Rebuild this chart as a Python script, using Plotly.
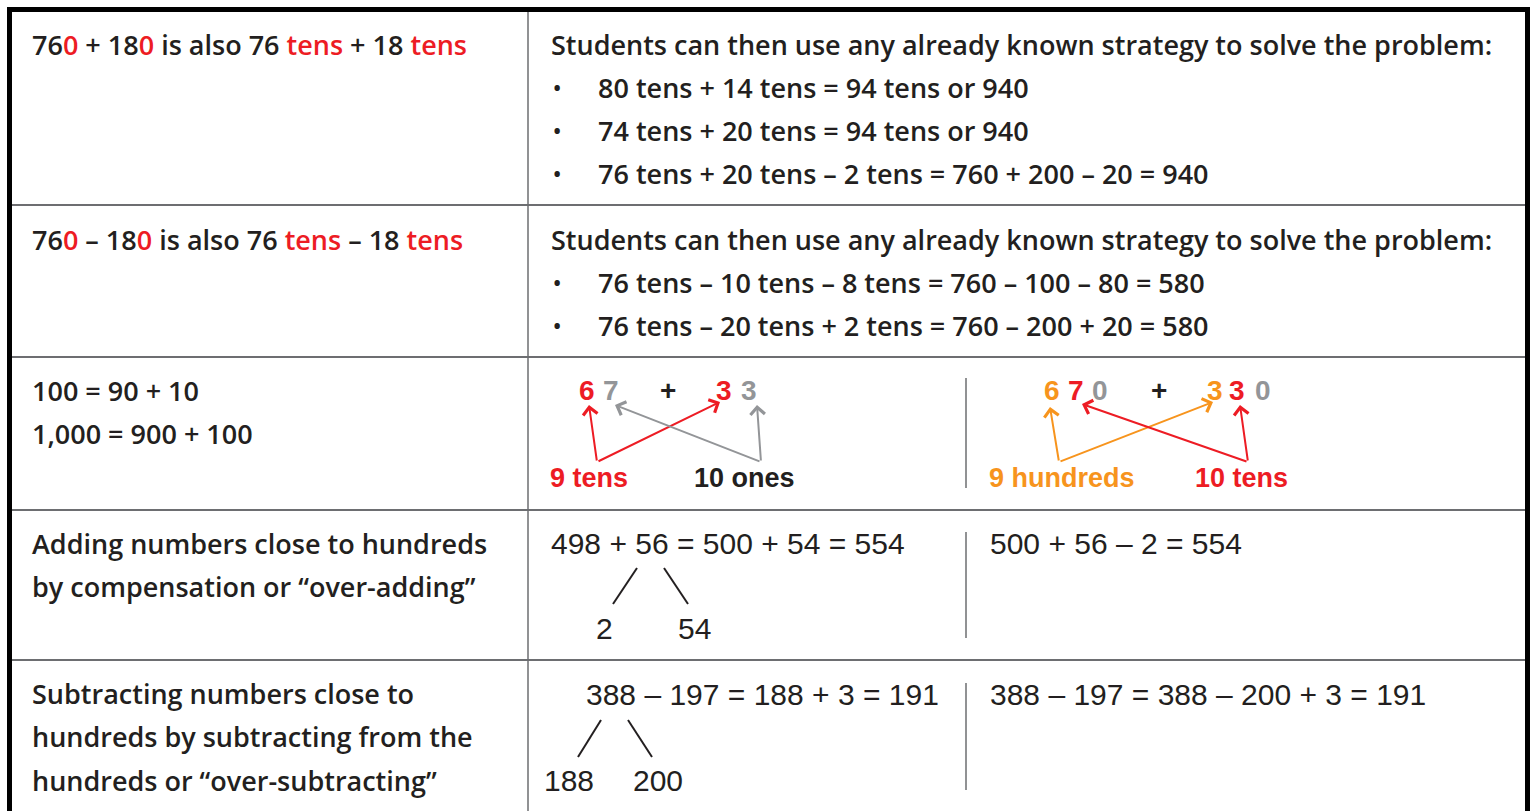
import plotly.graph_objects as go

# colours
RED = "#ed1c24"
ORANGE = "#f7941d"
GREY = "#939598"
INK = "#231f20"
RULE = "#6d6e71"

W, H = 1533, 811
MAIN_FONT = "Open Sans, Noto Sans, sans-serif"
MATH_FONT = "Liberation Sans, Arial, sans-serif"


def red(s):
    return '<span style="color:%s">%s</span>' % (RED, s)


# table content
row1_left = "76" + red("0") + " + 18" + red("0") + " is also 76 " + red("tens") + " + 18 " + red("tens")
row2_left = "76" + red("0") + " – 18" + red("0") + " is also 76 " + red("tens") + " – 18 " + red("tens")
strategy_intro = "Students can then use any already known strategy to solve the problem:"
row1_bullets = ["80 tens + 14 tens = 94 tens or 940",
                "74 tens + 20 tens = 94 tens or 940",
                "76 tens + 20 tens – 2 tens = 760 + 200 – 20 = 940"]
row2_bullets = ["76 tens – 10 tens – 8 tens = 760 – 100 – 80 = 580",
                "76 tens – 20 tens + 2 tens = 760 – 200 + 20 = 580"]
row3_left = ["100 = 90 + 10", "1,000 = 900 + 100"]
row4_left = ["Adding numbers close to hundreds", "by compensation or “over-adding”"]
row5_left = ["Subtracting numbers close to", "hundreds by subtracting from the", "hundreds or “over-subtracting”"]

# place-value diagrams (row 3)
tens_digits = ["6", "7", "+", "3", "3"]
tens_colors = [RED, GREY, INK, RED, GREY]
tens_labels = ["9 tens", "10 ones"]
tens_label_colors = [RED, INK]
hund_digits = ["6", "7", "0", "+", "3", "3", "0"]
hund_colors = [ORANGE, RED, GREY, INK, ORANGE, RED, GREY]
hund_labels = ["9 hundreds", "10 tens"]
hund_label_colors = [ORANGE, RED]

# compensation rows
row4_sum = "498 + 56 = 500 + 54 = 554"
row4_split = ["2", "54"]
row4_alt = "500 + 56 – 2 = 554"
row5_sum = "388 – 197 = 188 + 3 = 191"
row5_split = ["188", "200"]
row5_alt = "388 – 197 = 388 – 200 + 3 = 191"

# layout positions (page pixels)
row_lines = [205, 357, 510, 660]
col_x = 528
mid_x = 966
mid_spans = [(378, 488), (532, 638), (683, 790)]
left_x, right_x, bullet_x, bullet_text_x = 30, 549, 557, 596
alt_x = 988

fig = go.Figure(go.Scatter(x=[0, W], y=[0, H], mode="markers",
                           marker=dict(opacity=0), hoverinfo="skip", showlegend=False))

shapes = []
for y in row_lines:
    shapes.append(dict(type="line", x0=9, x1=1527, y0=y, y1=y, line=dict(color=RULE, width=2)))
shapes.append(dict(type="line", x0=col_x, x1=col_x, y0=10, y1=H, line=dict(color=RULE, width=1.5)))
for y0, y1 in mid_spans:
    shapes.append(dict(type="line", x0=mid_x, x1=mid_x, y0=y0, y1=y1, line=dict(color=RULE, width=1.5)))
# split lines
for (x0, y0, x1, y1) in [(637, 568, 613, 604), (664, 568, 688, 604),
                         (601, 720, 578, 757), (628, 720, 652, 757)]:
    shapes.append(dict(type="line", x0=x0, x1=x1, y0=y0, y1=y1, line=dict(color=INK, width=2)))
# outer frame
shapes.append(dict(type="line", x0=7, x1=1530, y0=9.5, y1=9.5, line=dict(color="black", width=5)))
shapes.append(dict(type="line", x0=9.5, x1=9.5, y0=7, y1=H, line=dict(color="black", width=5)))
shapes.append(dict(type="line", x0=1527.5, x1=1527.5, y0=7, y1=H, line=dict(color="black", width=5)))

ann = []


def text(x, y, s, size=27, color=INK, family=MAIN_FONT, anchor="left", weight=600):
    ann.append(dict(x=x, y=y, xref="x", yref="y", text=s, showarrow=False,
                    xanchor=anchor, yanchor="middle",
                    font=dict(family=family, size=size, color=color, weight=weight)))


# row 1 and 2
text(left_x, 44, row1_left)
text(right_x, 44, strategy_intro)
for i, s in enumerate(row1_bullets):
    text(bullet_x, 87 + 43 * i, "•", size=22, anchor="center")
    text(bullet_text_x, 87 + 43 * i, s)
text(left_x, 239, row2_left)
text(right_x, 239, strategy_intro)
for i, s in enumerate(row2_bullets):
    text(bullet_x, 282 + 43 * i, "•", size=22, anchor="center")
    text(bullet_text_x, 282 + 43 * i, s)

# row 3
for i, s in enumerate(row3_left):
    text(left_x, 390 + 43 * i, s)
for s, c, x in zip(tens_digits, tens_colors, [587, 611, 668, 724, 749]):
    text(x, 390, s, size=28, color=c, family=MATH_FONT, anchor="center", weight=700)
for s, c, x in zip(tens_labels, tens_label_colors, [589, 744]):
    text(x, 478, s, size=27, color=c, family=MATH_FONT, anchor="center", weight=700)
for s, c, x in zip(hund_digits, hund_colors, [1052, 1076, 1100, 1159, 1215, 1237, 1263]):
    text(x, 390, s, size=28, color=c, family=MATH_FONT, anchor="center", weight=700)
for s, c, x in zip(hund_labels, hund_label_colors, [1062, 1241]):
    text(x, 478, s, size=27, color=c, family=MATH_FONT, anchor="center", weight=700)

arrows = [
    (RED, (597, 462), (589, 405)), (RED, (597, 462), (720, 402)),
    (GREY, (761, 462), (757, 405)), (GREY, (761, 462), (615, 405)),
    (ORANGE, (1059, 462), (1050, 407)), (ORANGE, (1059, 462), (1213, 402)),
    (RED, (1248, 462), (1240, 405)), (RED, (1248, 462), (1082, 404)),
]
for c, (ax, ay), (x, y) in arrows:
    ann.append(dict(x=x, y=y, ax=ax, ay=ay, xref="x", yref="y", axref="x", ayref="y",
                    text="", showarrow=True, arrowhead=4, arrowsize=1.4, arrowwidth=2,
                    arrowcolor=c, standoff=0))

# row 4
for i, s in enumerate(row4_left):
    text(left_x, 543 + 43 * i, s)
text(right_x, 543, row4_sum, size=30, family=MATH_FONT, weight=400)
for s, x in zip(row4_split, [604, 694]):
    text(x, 628, s, size=30, family=MATH_FONT, anchor="center", weight=400)
text(alt_x, 543, row4_alt, size=30, family=MATH_FONT, weight=400)

# row 5
for i, s in enumerate(row5_left):
    text(left_x, 693 + 43.5 * i, s)
text(584, 694, row5_sum, size=30, family=MATH_FONT, weight=400)
for s, x in zip(row5_split, [569, 658]):
    text(x, 780, s, size=30, family=MATH_FONT, anchor="center", weight=400)
text(alt_x, 694, row5_alt, size=30, family=MATH_FONT, weight=400)

fig.update_layout(
    width=W, height=H,
    margin=dict(l=0, r=0, t=0, b=0),
    paper_bgcolor="white", plot_bgcolor="white",
    xaxis=dict(range=[0, W], visible=False, fixedrange=True),
    yaxis=dict(range=[H, 0], visible=False, fixedrange=True),
    shapes=shapes, annotations=ann,
    showlegend=False,
)

fig.write_html("out.html", config=dict(displayModeBar=False),
               post_script="document.body.style.margin='0';document.body.style.overflow='hidden';")
